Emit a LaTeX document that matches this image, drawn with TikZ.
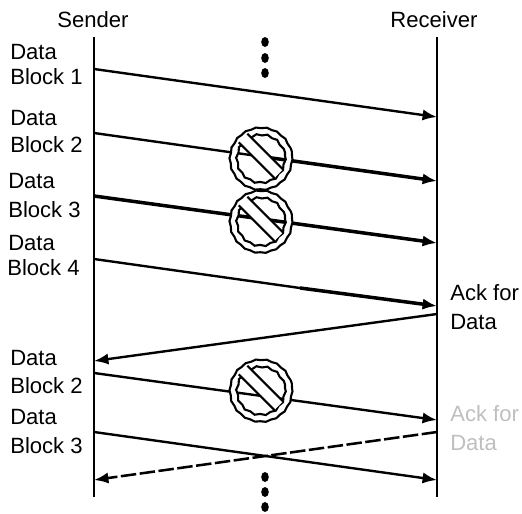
\documentclass[tikz,border=0pt]{standalone}
\usepackage{fontspec}
\setmainfont{Liberation Sans}
\usetikzlibrary{arrows.meta,decorations.pathmorphing,shapes.geometric}
\definecolor{fadedack}{gray}{0.75}
\newcommand{\noentry}[2]{%
  \node[stopband] (#1) at (#2) {};
  \path[stopring] decorate[outerwave] {(#1) circle[radius=31]} decorate[stopwave] {(#1) circle[radius=24]};
  \node[stopband] (#1b) at (#2) {};
  \draw[stopline] (#1b.north west) -- (#1b.north east);
  \draw[stopline] (#1b.south west) -- (#1b.south east);
}
\begin{document}
\begin{tikzpicture}[x=0.025cm,y=-0.025cm,
    lab/.style={anchor=west,inner sep=0pt,font=\fontsize{15.7pt}{17pt}\selectfont},
    head/.style={inner sep=0pt,font=\fontsize{15.7pt}{17pt}\selectfont},
    life/.style={line width=1.9pt},
    msg/.style={line width=1.7pt},
    msgb/.style={line width=2.5pt},
    tip/.style={-{Latex[length=0.36cm,width=0.28cm]}},
    ackd/.style={line width=1.8pt,dash pattern=on 11pt off 2.5pt},
    dotn/.style={ellipse,fill=black,inner sep=0pt,minimum width=0.19cm,minimum height=0.25cm},
    stopband/.style={fill=white,rotate=-45,inner sep=0pt,minimum width=1.25cm,minimum height=0.29cm},
    stopring/.style={draw=black,fill=white,even odd rule,line width=1.5pt},
    stopline/.style={line width=1.5pt},
    stopwave/.style={decoration={snake,segment length=0.27cm,amplitude=0.02cm}},
    outerwave/.style={decoration={snake,segment length=0.27cm,amplitude=0.012cm}}]
  \useasboundingbox (0,0) rectangle (522,514);
  % sender and receiver
  \node[head] (sender) at (93,20) {Sender};
  \node[head] (receiver) at (434,20) {Receiver};
  \coordinate (st) at (94,37);
  \coordinate (sb) at (94,497);
  \coordinate (rt) at (437,37);
  \coordinate (rb) at (437,497);
  \draw[life] (st) -- (sb);
  \draw[life] (rt) -- (rb);
  % labels on the left
  \node[lab] (d1) at (10,52) {Data};
  \node[lab] (b1) at (10,77) {Block 1};
  \node[lab] (d2) at (10,118) {Data};
  \node[lab] (b2) at (10,145) {Block 2};
  \node[lab] (d3) at (8,181) {Data};
  \node[lab] (b3) at (8,210) {Block 3};
  \node[lab] (d4) at (8,243) {Data};
  \node[lab] (b4) at (7,268) {Block 4};
  \node[lab] (d5) at (10,358) {Data};
  \node[lab] (b5) at (10,386) {Block 2};
  \node[lab] (d6) at (10,417) {Data};
  \node[lab] (b6) at (10,446) {Block 3};
  % labels on the right
  \node[lab] (a1) at (450,293) {Ack for};
  \node[lab] (a2) at (450,322) {Data};
  \node[lab,text=fadedack] (a3) at (450,414) {Ack for};
  \node[lab,text=fadedack] (a4) at (450,443) {Data};
  % messages
  \coordinate (s1) at (94,69);
  \coordinate (r1) at (437,117);
  \coordinate (s2) at (94,133);
  \coordinate (m2) at (261,156.5);
  \coordinate (r2) at (437,181);
  \coordinate (s3) at (94,196);
  \coordinate (r3) at (437,243);
  \coordinate (s4) at (94,259);
  \coordinate (m4) at (300,288);
  \coordinate (r4) at (437,306);
  \coordinate (r5) at (437,314);
  \coordinate (s5) at (94,361);
  \coordinate (s6) at (94,373);
  \coordinate (r6) at (437,420);
  \coordinate (s7) at (94,432);
  \coordinate (r7) at (437,480);
  \coordinate (r8) at (437,432);
  \coordinate (s8) at (94,480);
  \draw[msg,tip] (s1) -- (r1);
  \draw[msg] (s2) -- (m2);
  \draw[msgb,tip] (m2) -- (r2);
  \draw[msgb,tip] (s3) -- (r3);
  \draw[msg] (s4) -- (m4);
  \draw[msgb,tip] (m4) -- (r4);
  \draw[msg,tip] (r5) -- (s5);
  \draw[msg,tip] (s6) -- (r6);
  \draw[msg,tip] (s7) -- (r7);
  \draw[ackd,tip] (r8) -- (s8);
  % blocked
  \noentry{stopa}{261,156}
  \noentry{stopb}{261,219}
  \noentry{stopc}{261,388}
  % dots
  \node[dotn] (t1) at (265,42) {};
  \node[dotn] (t2) at (265,58) {};
  \node[dotn] (t3) at (265,73) {};
  \node[dotn] (u1) at (265,477) {};
  \node[dotn] (u2) at (265,492) {};
  \node[dotn] (u3) at (265,507) {};
\end{tikzpicture}
\end{document}
